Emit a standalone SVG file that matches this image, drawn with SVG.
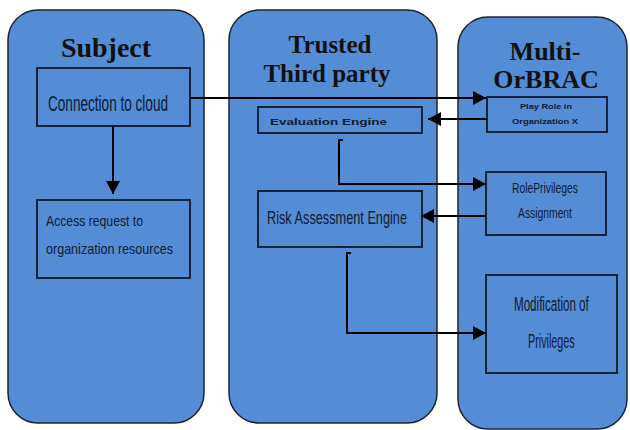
<svg xmlns="http://www.w3.org/2000/svg" width="630" height="430" viewBox="0 0 630 430">
<defs>
<style>
.panel{fill:#548dd5;stroke:#1c2330;stroke-width:1.5}
.box{fill:#548dd5;stroke:#14233a;stroke-width:2}
.title{font-family:"Liberation Serif",serif;font-weight:bold;font-size:25px;fill:#111;text-anchor:middle}
.t{font-family:"Liberation Sans",Arial,sans-serif;fill:#0f1b33}
.c{fill:none;stroke:#000;stroke-width:2}
</style>
<marker id="ah" markerUnits="userSpaceOnUse" markerWidth="14" markerHeight="14" refX="13" refY="7" orient="auto">
<path d="M0,0 L13,7 L0,14 z" fill="#000"/>
</marker>
</defs>
<rect width="630" height="430" fill="#fff"/>
<g id="subject">
<rect class="panel" x="8" y="10" width="196" height="413" rx="30"/>
<text class="title" x="106" y="57" style="font-size:28px">Subject</text>
</g>
<g id="trusted">
<rect class="panel" x="229" y="10" width="208" height="413" rx="30"/>
<text class="title" x="330" y="53">Trusted</text>
<text class="title" x="327" y="82">Third party</text>
</g>
<g id="multi">
<rect class="panel" x="458" y="17" width="169" height="412" rx="30"/>
<text class="title" x="545" y="60" style="font-size:26px">Multi-</text>
<text class="title" x="546" y="88" style="font-size:26px">OrBRAC</text>
</g>
<g id="connection">
<rect class="box" x="37" y="68" width="153" height="58"/>
<text class="t" x="48" y="111" font-size="22" textLength="120" lengthAdjust="spacingAndGlyphs">Connection to cloud</text>
</g>
<g id="access">
<rect class="box" x="37" y="200" width="153" height="78"/>
<text class="t" x="46" y="226" font-size="15" textLength="97" lengthAdjust="spacingAndGlyphs">Access request to</text>
<text class="t" x="46" y="254" font-size="15" textLength="127" lengthAdjust="spacingAndGlyphs">organization resources</text>
</g>
<g id="evaluation">
<rect class="box" x="258" y="107" width="164" height="26"/>
<text class="t" x="270" y="125" font-size="9" font-weight="bold" textLength="117" lengthAdjust="spacingAndGlyphs">Evaluation Engine</text>
</g>
<g id="risk">
<rect class="box" x="258" y="191" width="164" height="56"/>
<text class="t" x="267" y="224" font-size="19" textLength="140" lengthAdjust="spacingAndGlyphs">Risk Assessment Engine</text>
</g>
<g id="playrole">
<rect class="box" x="487" y="97" width="120" height="35"/>
<text class="t" x="520" y="109" font-size="6.5" font-weight="bold" textLength="52" lengthAdjust="spacingAndGlyphs">Play Role in</text>
<text class="t" x="512" y="124" font-size="6.5" font-weight="bold" textLength="66" lengthAdjust="spacingAndGlyphs">Organization X</text>
</g>
<g id="roleprivileges">
<rect class="box" x="486" y="172" width="120" height="63"/>
<text class="t" x="512" y="193" font-size="14" textLength="66" lengthAdjust="spacingAndGlyphs">RolePrivileges</text>
<text class="t" x="518" y="218" font-size="14" textLength="54" lengthAdjust="spacingAndGlyphs">Assignment</text>
</g>
<g id="modification">
<rect class="box" x="486" y="275" width="131" height="98"/>
<text class="t" transform="translate(514,311) scale(0.55,1)" font-size="21" textLength="136" lengthAdjust="spacingAndGlyphs">Modification of</text>
<text class="t" transform="translate(528,348) scale(0.55,1)" font-size="21" textLength="85" lengthAdjust="spacingAndGlyphs">Privileges</text>
</g>
<g id="connectors">
<line class="c" x1="113" y1="126" x2="113" y2="194" marker-end="url(#ah)"/>
<line class="c" x1="190" y1="98" x2="486" y2="98" marker-end="url(#ah)"/>
<line class="c" x1="487" y1="119" x2="428" y2="119" marker-end="url(#ah)"/>
<polyline class="c" points="343,140 339,140 339,184 486,184" marker-end="url(#ah)"/>
<line class="c" x1="486" y1="216" x2="421" y2="216" marker-end="url(#ah)"/>
<polyline class="c" points="351,253 347,253 347,333 486,333" marker-end="url(#ah)"/>
</g>
</svg>
